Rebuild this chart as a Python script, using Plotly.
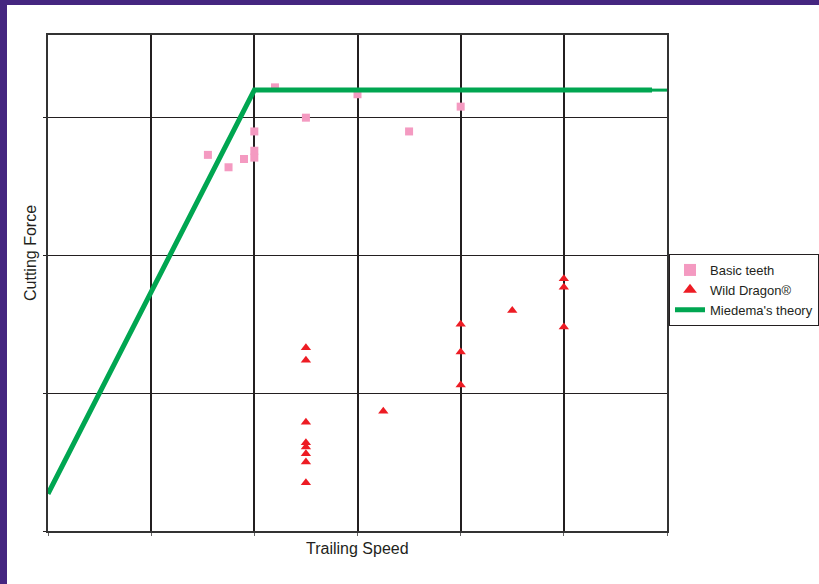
import plotly.graph_objects as go

# Data (axis units: trailing speed grid steps, cutting force grid steps)
basic_x = [2.20, 3.00, 4.00, 2.50, 2.00, 3.50, 1.55, 1.75, 1.90, 2.00, 2.00]
basic_y = [3.22, 3.17, 3.08, 3.00, 2.90, 2.90, 2.73, 2.64, 2.70, 2.76, 2.71]

dragon_x = [2.50, 2.50, 2.50, 2.50, 2.50, 2.50, 2.50, 2.50, 3.25, 4.00, 4.00, 4.00, 4.50, 5.00, 5.00, 5.00]
dragon_y = [1.33, 1.24, 0.79, 0.64, 0.61, 0.56, 0.50, 0.35, 0.87, 1.50, 1.30, 1.06, 1.60, 1.83, 1.77, 1.48]

theory_x = [0.0, 2.0, 5.855]
theory_y = [0.27, 3.20, 3.20]
theory_tail_x = [5.85, 6.0]
theory_tail_y = [3.20, 3.20]

x_ticks = [0, 1, 2, 3, 4, 5, 6]
y_ticks = [0, 1, 2, 3]

FONT = "Liberation Sans, Arial, sans-serif"
W, H = 819, 584
L, R, T, B = 48, 152, 35, 53
PW, PH = W - L - R, H - T - B

fig = go.Figure()
fig.add_trace(go.Scatter(
    x=basic_x, y=basic_y, mode="markers", name="Basic teeth",
    marker=dict(symbol="square", size=8, color="#f49ac1", line=dict(width=0)),
))
fig.add_trace(go.Scatter(
    x=dragon_x, y=dragon_y, mode="markers", name="Wild Dragon®",
    marker=dict(symbol="triangle-up", size=9, color="#ed1c24", line=dict(width=0)),
))
fig.add_trace(go.Scatter(
    x=theory_x, y=theory_y, mode="lines", name="Miedema's theory",
    line=dict(color="#00a651", width=5),
))
fig.add_trace(go.Scatter(
    x=theory_tail_x, y=theory_tail_y, mode="lines", showlegend=False,
    line=dict(color="#00a651", width=3), hoverinfo="skip",
))

fig.update_layout(
    width=W, height=H,
    margin=dict(l=L, r=R, t=T, b=B, pad=0, autoexpand=False),
    paper_bgcolor="white", plot_bgcolor="white",
    font=dict(family=FONT, color="#231f20", size=13),
    showlegend=True,
    legend=dict(
        x=(669 - L) / PW, y=(H - B - 254) / PH, xanchor="left", yanchor="top",
        bordercolor="#231f20", borderwidth=1, bgcolor="white",
        font=dict(family=FONT, size=13, color="#231f20"),
        itemsizing="constant", itemwidth=30, tracegroupgap=0,
    ),
    xaxis=dict(
        range=[0, 6], tickvals=x_ticks, showticklabels=False,
        showgrid=True, gridcolor="#231f20", gridwidth=1.5,
        zeroline=False, showline=True, linecolor="#333333", linewidth=1.5, mirror=True,
        ticks="outside", ticklen=3, tickcolor="#666666", tickwidth=1,
        fixedrange=True,
    ),
    yaxis=dict(
        range=[0, 3.6], tickvals=y_ticks, showticklabels=False,
        showgrid=True, gridcolor="#231f20", gridwidth=1,
        zeroline=False, showline=True, linecolor="#333333", linewidth=1.5, mirror=True,
        ticks="outside", ticklen=3, tickcolor="#231f20", tickwidth=1,
        fixedrange=True,
    ),
    annotations=[
        dict(text="Trailing Speed", xref="paper", yref="paper",
             x=0.5, y=(H - B - 548) / PH, xanchor="center", yanchor="middle",
             showarrow=False, font=dict(family=FONT, size=16, color="#231f20")),
        dict(text="Cutting Force", xref="paper", yref="paper",
             x=(30 - L) / PW, y=(H - B - 253) / PH, xanchor="center", yanchor="middle",
             textangle=-90, showarrow=False,
             font=dict(family=FONT, size=16, color="#231f20")),
    ],
    shapes=[
        dict(type="rect", xref="paper", yref="paper", xsizemode="pixel", ysizemode="pixel",
             xanchor=0, yanchor=1, x0=-L, x1=-L + 7, y0=T + 1, y1=-(H - T),
             fillcolor="#452680", line=dict(width=0), layer="above"),
        dict(type="rect", xref="paper", yref="paper", xsizemode="pixel", ysizemode="pixel",
             xanchor=0, yanchor=1, x0=-L, x1=W - L, y0=T + 1, y1=T - 5,
             fillcolor="#452680", line=dict(width=0), layer="above"),
    ],
)

fig.write_html("out.html", config={"displayModeBar": False},
               post_script="document.body.style.margin='0px';")
